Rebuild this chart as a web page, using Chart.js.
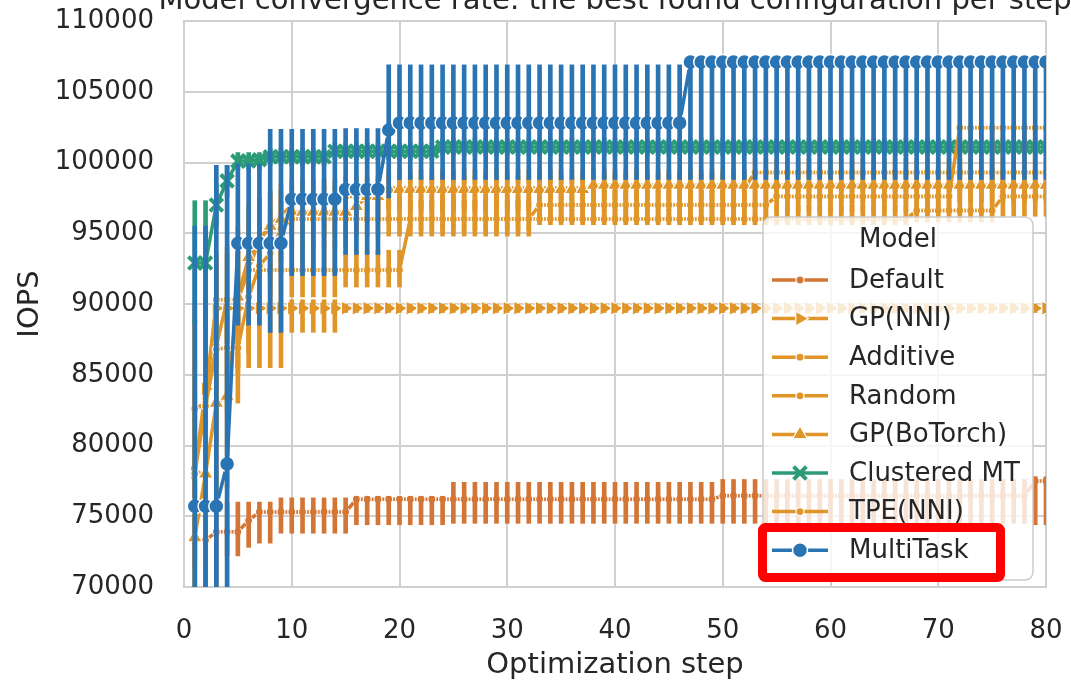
<html>
<head>
  <script src="https://cdn.jsdelivr.net/npm/chart.js"></script>
  <style>
    body { margin: 0; background: #fff; }
  </style>
  <script>
    // optimization steps 1..80
    const steps = [
      1, 2, 3, 4, 5, 6, 7, 8, 9, 10, 11, 12, 13, 14, 15, 16, 17, 18, 19, 20,
      21, 22, 23, 24, 25, 26, 27, 28, 29, 30, 31, 32, 33, 34, 35, 36, 37, 38, 39, 40,
      41, 42, 43, 44, 45, 46, 47, 48, 49, 50, 51, 52, 53, 54, 55, 56, 57, 58, 59, 60,
      61, 62, 63, 64, 65, 66, 67, 68, 69, 70, 71, 72, 73, 74, 75, 76, 77, 78, 79, 80
    ];
    const xTicks = [0, 10, 20, 30, 40, 50, 60, 70, 80];
    const yTicks = [70000, 75000, 80000, 85000, 90000, 95000, 100000, 105000, 110000];

    // Default
    const defaultMean = [
      73300, 73300, 73900, 73900, 73900, 74700, 75300, 75300, 75300, 75300,
      75300, 75300, 75300, 75300, 75300, 76200, 76200, 76200, 76200, 76200,
      76200, 76200, 76200, 76200, 76200, 76200, 76200, 76200, 76200, 76200,
      76200, 76200, 76200, 76200, 76200, 76200, 76200, 76200, 76200, 76200,
      76200, 76200, 76200, 76200, 76200, 76200, 76200, 76200, 76200, 76450,
      76450, 76450, 76450, 76450, 76450, 76450, 76450, 76450, 76450, 76450,
      76450, 76450, 76450, 76450, 76450, 76450, 76450, 76450, 76450, 76450,
      76450, 76450, 76450, 76450, 76450, 76450, 76450, 76450, 77500, 77500
    ];
    const defaultLo = [
      71500, 70000, 70000, 72200, 72200, 72800, 73100, 73100, 73800, 73800,
      73800, 73800, 73800, 73800, 73800, 74400, 74400, 74400, 74400, 74400,
      74400, 74400, 74400, 74400, 74500, 74500, 74500, 74500, 74500, 74500,
      74500, 74500, 74500, 74500, 74500, 74500, 74500, 74500, 74500, 74500,
      74500, 74500, 74500, 74500, 74500, 74500, 74500, 74500, 74500, 74500,
      74500, 74500, 74500, 74500, 74500, 74500, 74500, 74500, 74500, 74500,
      74500, 74500, 74500, 74500, 74500, 74500, 74500, 74500, 74500, 74500,
      74500, 74500, 74500, 74500, 74500, 74500, 74500, 74500, 74400, 74400
    ];
    const defaultHi = [
      75000, 76500, 75500, 76000, 76000, 76000, 76000, 76000, 76300, 76300,
      76300, 76300, 76300, 76300, 76300, 76400, 76400, 76400, 76400, 76400,
      76400, 76400, 76400, 76400, 77400, 77400, 77400, 77400, 77400, 77400,
      77400, 77400, 77400, 77400, 77400, 77400, 77400, 77400, 77400, 77400,
      77400, 77400, 77400, 77400, 77400, 77400, 77400, 77400, 77400, 77600,
      77600, 77600, 77600, 77600, 77600, 77600, 77600, 77600, 77600, 77600,
      77600, 77600, 77600, 77600, 77600, 77600, 77600, 77600, 77600, 77600,
      77600, 77600, 77600, 77600, 77600, 77600, 77600, 77600, 77800, 77800
    ];

    // GP(NNI)
    const gpNniMean = [
      78100, 84000, 89700, 89700, 89700, 89700, 89700, 89700, 89700, 89700,
      89700, 89700, 89700, 89700, 89700, 89700, 89700, 89700, 89700, 89700,
      89700, 89700, 89700, 89700, 89700, 89700, 89700, 89700, 89700, 89700,
      89700, 89700, 89700, 89700, 89700, 89700, 89700, 89700, 89700, 89700,
      89700, 89700, 89700, 89700, 89700, 89700, 89700, 89700, 89700, 89700,
      89700, 89700, 89700, 89700, 89700, 89700, 89700, 89700, 89700, 89700,
      89700, 89700, 89700, 89700, 89700, 89700, 89700, 89700, 89700, 89700,
      89700, 89700, 89700, 89700, 89700, 89700, 89700, 89700, 89700, 89700
    ];
    const gpNniLo = [
      70000, 76000, 87500, 87500, 85500, 85500, 85500, 85500, 85500, 88000,
      88000, 88000, 88000, 88000, 89400, 89400, 89400, 89400, 89400, 89400,
      89400, 89400, 89400, 89400, 89400, 89400, 89400, 89400, 89400, 89400,
      89400, 89400, 89400, 89400, 89400, 89400, 89400, 89400, 89400, 89400,
      89400, 89400, 89400, 89400, 89400, 89400, 89400, 89400, 89400, 89400,
      89400, 89400, 89400, 89400, 89400, 89400, 89400, 89400, 89400, 89400,
      89400, 89400, 89400, 89400, 89400, 89400, 89400, 89400, 89400, 89400,
      89400, 89400, 89400, 89400, 89400, 89400, 89400, 89400, 89400, 89400
    ];
    const gpNniHi = [
      86000, 90400, 90400, 90400, 90400, 90400, 90400, 90400, 90400, 90300,
      90300, 90300, 90300, 90300, 90000, 90000, 90000, 90000, 90000, 90000,
      90000, 90000, 90000, 90000, 90000, 90000, 90000, 90000, 90000, 90000,
      90000, 90000, 90000, 90000, 90000, 90000, 90000, 90000, 90000, 90000,
      90000, 90000, 90000, 90000, 90000, 90000, 90000, 90000, 90000, 90000,
      90000, 90000, 90000, 90000, 90000, 90000, 90000, 90000, 90000, 90000,
      90000, 90000, 90000, 90000, 90000, 90000, 90000, 90000, 90000, 90000,
      90000, 90000, 90000, 90000, 90000, 90000, 90000, 90000, 90000, 90000
    ];

    // Additive
    const additiveMean = [
      82500, 83000, 87000, 90300, 90300, 92500, 94500, 95600, 96200, 97000,
      97300, 97300, 97300, 97300, 97600, 97600, 97600, 97600, 98200, 98200,
      98200, 98200, 98200, 98200, 98200, 98200, 98200, 98200, 98200, 98200,
      98200, 98200, 98200, 98200, 98200, 98200, 98200, 98200, 98200, 98200,
      98200, 98200, 98200, 98200, 98200, 98200, 98200, 98200, 98200, 98200,
      98200, 98200, 99300, 99300, 99300, 99300, 99300, 99300, 99300, 99300,
      99300, 99300, 99300, 99300, 99300, 99300, 99300, 99300, 99300, 99300,
      99300, 99300, 99300, 99300, 99300, 99300, 99300, 99300, 99300, 99300
    ];
    const additiveLo = [
      75000, 76000, 80000, 85000, 85500, 87500, 90000, 92000, 93000, 95000,
      95500, 95500, 95500, 95500, 96000, 96000, 96000, 96000, 96600, 96600,
      96600, 96600, 96600, 96600, 96600, 96600, 96600, 96600, 96600, 96600,
      96600, 96600, 96600, 96600, 96600, 96600, 96600, 96600, 96600, 96600,
      96600, 96600, 96600, 96600, 96600, 96600, 96600, 96600, 96600, 96600,
      96600, 96600, 98000, 98000, 98000, 98000, 98000, 98000, 98000, 98000,
      98000, 98000, 98000, 98000, 98000, 98000, 98000, 98000, 98000, 98000,
      98000, 98000, 98000, 98000, 98000, 98000, 98000, 98000, 98000, 98000
    ];
    const additiveHi = [
      90000, 90000, 93000, 94000, 94500, 96500, 97500, 98000, 98500, 98700,
      98800, 98800, 98800, 98800, 99000, 99000, 99000, 99000, 99500, 99500,
      99500, 99500, 99500, 99500, 99500, 99500, 99500, 99500, 99500, 99500,
      99500, 99500, 99500, 99500, 99500, 99500, 99500, 99500, 99500, 99500,
      99500, 99500, 99500, 99500, 99500, 99500, 99500, 99500, 99500, 99500,
      99500, 99500, 100300, 100300, 100300, 100300, 100300, 100300, 100300, 100300,
      100300, 100300, 100300, 100300, 100300, 100300, 100300, 100300, 100300, 100300,
      100300, 100300, 100300, 100300, 100300, 100300, 100300, 100300, 100300, 100300
    ];

    // Random
    const randomMean = [
      82600, 83000, 90300, 90300, 90300, 92400, 92400, 92400, 92400, 92400,
      92400, 92400, 92400, 92400, 92400, 92400, 92400, 92400, 92400, 92400,
      96000, 96000, 96000, 96000, 96000, 96000, 96000, 96000, 96000, 96000,
      96000, 96000, 96000, 96000, 96000, 96000, 96000, 96000, 96000, 96000,
      96000, 96000, 96000, 96000, 96000, 96000, 96000, 96000, 96000, 96000,
      96000, 96000, 96000, 96000, 96000, 96000, 96000, 96000, 96000, 96000,
      96000, 96000, 96000, 96000, 96000, 96000, 96000, 96600, 96600, 96600,
      96600, 96600, 96600, 96600, 96600, 97600, 97600, 97600, 97600, 97600
    ];
    const randomLo = [
      76000, 77000, 86500, 86500, 87000, 90500, 90500, 90500, 90500, 90500,
      90500, 90500, 90500, 90500, 91200, 91200, 91200, 91200, 91200, 91200,
      95200, 95200, 95200, 95200, 95200, 95200, 95200, 95200, 95200, 95200,
      95200, 95200, 95600, 95600, 95600, 95600, 95600, 95600, 95600, 95600,
      95600, 95600, 95600, 95600, 95600, 95600, 95600, 95600, 95600, 95600,
      95600, 95600, 95600, 95600, 95600, 95600, 95600, 95600, 95600, 95600,
      95600, 95600, 95600, 95600, 95600, 95600, 95600, 95800, 95800, 95800,
      95800, 95800, 95800, 95800, 95800, 96200, 96200, 96200, 96200, 96200
    ];
    const randomHi = [
      89000, 89500, 93500, 93500, 94000, 94500, 94500, 94500, 94500, 94500,
      94500, 94500, 94500, 94500, 93800, 93800, 93800, 93800, 93800, 93800,
      97300, 97300, 97300, 97300, 97300, 97300, 97300, 97300, 97300, 97300,
      97300, 97300, 97000, 97000, 97000, 97000, 97000, 97000, 97000, 97000,
      97000, 97000, 97000, 97000, 97000, 97000, 97000, 97000, 97000, 97000,
      97000, 97000, 97000, 97000, 97000, 97000, 97000, 97000, 97000, 97000,
      97000, 97000, 97000, 97000, 97000, 97000, 97000, 97600, 97600, 97600,
      97600, 97600, 97600, 97600, 97600, 98700, 98700, 98700, 98700, 98700
    ];

    // GP(BoTorch)
    const boTorchMean = [
      73500, 78000, 83000, 83500, 90500, 93300, 94500, 95500, 96000, 96500,
      96500, 96500, 96500, 96500, 96500, 96900, 97600, 97600, 98100, 98100,
      98100, 98100, 98100, 98100, 98100, 98100, 98100, 98100, 98100, 98100,
      98100, 98100, 98100, 98100, 98100, 98100, 98100, 98400, 98400, 98400,
      98400, 98400, 98400, 98400, 98400, 98400, 98400, 98400, 98400, 98400,
      98400, 98400, 98400, 98400, 98400, 98400, 98400, 98400, 98400, 98400,
      98400, 98400, 98400, 98400, 98400, 98400, 98400, 98400, 98400, 98400,
      98400, 98400, 98400, 98400, 98400, 98400, 98400, 98400, 98400, 98400
    ];
    const boTorchLo = [
      70000, 72000, 76000, 77000, 85000, 89000, 90500, 91500, 92500, 94000,
      94000, 94000, 94000, 94000, 94000, 95000, 96000, 96000, 96800, 96800,
      96800, 96800, 96800, 96800, 96800, 96800, 96800, 96800, 96800, 96800,
      96800, 96800, 96800, 96800, 96800, 96800, 96800, 97200, 97200, 97200,
      97200, 97200, 97200, 97200, 97200, 97200, 97200, 97200, 97200, 97200,
      97200, 97200, 97200, 97200, 97200, 97200, 97200, 97200, 97200, 97200,
      97200, 97200, 97200, 97200, 97200, 97200, 97200, 97200, 97200, 97200,
      97200, 97200, 97200, 97200, 97200, 97200, 97200, 97200, 97200, 97200
    ];
    const boTorchHi = [
      77000, 84000, 89500, 90000, 95500, 97000, 97500, 97800, 98000, 98300,
      98300, 98300, 98300, 98300, 98300, 98500, 98800, 98800, 99000, 99000,
      99000, 99000, 99000, 99000, 99000, 99000, 99000, 99000, 99000, 99000,
      99000, 99000, 99000, 99000, 99000, 99000, 99000, 99200, 99200, 99200,
      99200, 99200, 99200, 99200, 99200, 99200, 99200, 99200, 99200, 99200,
      99200, 99200, 99200, 99200, 99200, 99200, 99200, 99200, 99200, 99200,
      99200, 99200, 99200, 99200, 99200, 99200, 99200, 99200, 99200, 99200,
      99200, 99200, 99200, 99200, 99200, 99200, 99200, 99200, 99200, 99200
    ];

    // Clustered MT
    const clusteredMean = [
      92900, 92900, 97000, 98700, 100100, 100100, 100200, 100400, 100400, 100400,
      100400, 100400, 100400, 100800, 100800, 100800, 100800, 100800, 100800, 100800,
      100800, 100800, 100800, 101100, 101100, 101100, 101100, 101100, 101100, 101100,
      101100, 101100, 101100, 101100, 101100, 101100, 101100, 101100, 101100, 101100,
      101100, 101100, 101100, 101100, 101100, 101100, 101100, 101100, 101100, 101100,
      101100, 101100, 101100, 101100, 101100, 101100, 101100, 101100, 101100, 101100,
      101100, 101100, 101100, 101100, 101100, 101100, 101100, 101100, 101100, 101100,
      101100, 101100, 101100, 101100, 101100, 101100, 101100, 101100, 101100, 101100
    ];
    const clusteredLo = [
      88500, 88500, 95500, 97600, 99500, 99500, 99500, 99800, 99800, 99800,
      99800, 99800, 99800, 100200, 100200, 100200, 100200, 100200, 100200, 100200,
      100200, 100200, 100200, 100500, 100500, 100500, 100500, 100500, 100500, 100500,
      100500, 100500, 100500, 100500, 100500, 100500, 100500, 100500, 100500, 100500,
      100500, 100500, 100500, 100500, 100500, 100500, 100500, 100500, 100500, 100500,
      100500, 100500, 100500, 100500, 100500, 100500, 100500, 100500, 100500, 100500,
      100500, 100500, 100500, 100500, 100500, 100500, 100500, 100500, 100500, 100500,
      100500, 100500, 100500, 100500, 100500, 100500, 100500, 100500, 100500, 100500
    ];
    const clusteredHi = [
      97300, 97300, 98500, 99800, 100700, 100700, 100700, 101000, 101000, 101000,
      101000, 101000, 101000, 101400, 101400, 101400, 101400, 101400, 101400, 101400,
      101400, 101400, 101400, 101700, 101700, 101700, 101700, 101700, 101700, 101700,
      101700, 101700, 101700, 101700, 101700, 101700, 101700, 101700, 101700, 101700,
      101700, 101700, 101700, 101700, 101700, 101700, 101700, 101700, 101700, 101700,
      101700, 101700, 101700, 101700, 101700, 101700, 101700, 101700, 101700, 101700,
      101700, 101700, 101700, 101700, 101700, 101700, 101700, 101700, 101700, 101700,
      101700, 101700, 101700, 101700, 101700, 101700, 101700, 101700, 101700, 101700
    ];

    // TPE(NNI)
    const tpeMean = [
      78000, 82800, 86800, 86900, 86900, 90500, 92700, 93600, 95300, 96000,
      96000, 96000, 96000, 96000, 96000, 96000, 96000, 96000, 96000, 96000,
      96000, 96000, 96000, 96000, 96000, 96000, 96000, 96000, 96000, 96000,
      96000, 96000, 97000, 97000, 97000, 97000, 97000, 97000, 97000, 97000,
      97000, 97000, 97000, 97000, 97000, 97000, 97000, 97000, 97000, 97000,
      97000, 97000, 97000, 97000, 97600, 97600, 97600, 97600, 97600, 97600,
      97600, 97600, 97600, 97600, 97600, 97600, 97600, 97600, 97600, 97600,
      97600, 102450, 102450, 102450, 102450, 102450, 102450, 102450, 102450, 102450
    ];
    const tpeLo = [
      72000, 76000, 82000, 82500, 83000, 86500, 89000, 90500, 93000, 94800,
      94800, 94800, 94800, 94800, 94800, 94800, 94800, 94800, 94800, 94800,
      94800, 94800, 94800, 94800, 94800, 94800, 94800, 94800, 94800, 94800,
      94800, 94800, 95800, 95800, 95800, 95800, 95800, 95800, 95800, 95800,
      95800, 95800, 95800, 95800, 95800, 95800, 95800, 95800, 95800, 95800,
      95800, 95800, 95800, 95800, 96500, 96500, 96500, 96500, 96500, 96500,
      96500, 96500, 96500, 96500, 96500, 96500, 96500, 96500, 96500, 96500,
      96500, 97600, 97600, 97600, 97600, 97600, 97600, 97600, 97600, 97600
    ];
    const tpeHi = [
      84000, 88000, 90500, 90500, 90500, 93500, 95500, 96500, 97300, 97300,
      97300, 97300, 97300, 97300, 97300, 97300, 97300, 97300, 97300, 97300,
      97300, 97300, 97300, 97300, 97300, 97300, 97300, 97300, 97300, 97300,
      97300, 97300, 98000, 98000, 98000, 98000, 98000, 98000, 98000, 98000,
      98000, 98000, 98000, 98000, 98000, 98000, 98000, 98000, 98000, 98000,
      98000, 98000, 98000, 98000, 98600, 98600, 98600, 98600, 98600, 98600,
      98600, 98600, 98600, 98600, 98600, 98600, 98600, 98600, 98600, 98600,
      98600, 102600, 102600, 102600, 102600, 102600, 102600, 102600, 102600, 102600
    ];

    // MultiTask
    const multiTaskMean = [
      75700, 75700, 75700, 78700, 94300, 94300, 94300, 94300, 94300, 97400,
      97400, 97400, 97400, 97400, 98100, 98100, 98100, 98100, 102300, 102800,
      102800, 102800, 102800, 102800, 102800, 102800, 102800, 102800, 102800, 102800,
      102800, 102800, 102800, 102800, 102800, 102800, 102800, 102800, 102800, 102800,
      102800, 102800, 102800, 102800, 102800, 102800, 107100, 107100, 107100, 107100,
      107100, 107100, 107100, 107100, 107100, 107100, 107100, 107100, 107100, 107100,
      107100, 107100, 107100, 107100, 107100, 107100, 107100, 107100, 107100, 107100,
      107100, 107100, 107100, 107100, 107100, 107100, 107100, 107100, 107100, 107100
    ];
    const multiTaskLo = [
      64000, 64000, 64000, 66000, 88500, 88500, 88500, 88000, 88000, 92000,
      92000, 92000, 92000, 92000, 93500, 93500, 93500, 93500, 97500, 98800,
      98800, 98800, 98800, 98800, 98800, 98800, 98800, 98800, 98800, 98800,
      98800, 98800, 98800, 98800, 98800, 98800, 98800, 98800, 98800, 98800,
      98800, 98800, 98800, 98800, 98800, 98800, 98800, 98800, 98800, 98800,
      98800, 98800, 98800, 98800, 98800, 98800, 98800, 98800, 98800, 98800,
      98800, 98800, 98800, 98800, 98800, 98800, 98800, 98800, 98800, 98800,
      98800, 98800, 98800, 98800, 98800, 98800, 98800, 98800, 98800, 98800
    ];
    const multiTaskHi = [
      95500, 95500, 99800, 99800, 99900, 99900, 99900, 102350, 102350, 102350,
      102350, 102350, 102350, 102350, 102400, 102400, 102400, 102400, 106900, 106900,
      106900, 106900, 106900, 106900, 106900, 106900, 106900, 106900, 106900, 106900,
      106900, 106900, 106900, 106900, 106900, 106900, 106900, 106900, 106900, 106900,
      106900, 106900, 106900, 106900, 106900, 106900, 107100, 107100, 107100, 107100,
      107100, 107100, 107100, 107100, 107100, 107100, 107100, 107100, 107100, 107100,
      107100, 107100, 107100, 107100, 107100, 107100, 107100, 107100, 107100, 107100,
      107100, 107100, 107100, 107100, 107100, 107100, 107100, 107100, 107100, 107100
    ];

    const BLUE = '#2a74b4';
    const ORANGE = '#df9527';
    const GREEN = '#2c9b77';
    const VERMILION = '#d37535';
    const TEXT = '#262626';
    const GRID = '#d0d0d0';

    // style per model: colour, marker
    const seriesDefs = [
      { name: 'Default', mean: defaultMean, lo: defaultLo, hi: defaultHi, color: VERMILION, marker: 'dot' },
      { name: 'GP(NNI)', mean: gpNniMean, lo: gpNniLo, hi: gpNniHi, color: ORANGE, marker: 'right' },
      { name: 'Additive', mean: additiveMean, lo: additiveLo, hi: additiveHi, color: ORANGE, marker: 'dot' },
      { name: 'Random', mean: randomMean, lo: randomLo, hi: randomHi, color: ORANGE, marker: 'dot' },
      { name: 'GP(BoTorch)', mean: boTorchMean, lo: boTorchLo, hi: boTorchHi, color: ORANGE, marker: 'up' },
      { name: 'Clustered MT', mean: clusteredMean, lo: clusteredLo, hi: clusteredHi, color: GREEN, marker: 'x' },
      { name: 'TPE(NNI)', mean: tpeMean, lo: tpeLo, hi: tpeHi, color: ORANGE, marker: 'dot' },
      { name: 'MultiTask', mean: multiTaskMean, lo: multiTaskLo, hi: multiTaskHi, color: BLUE, marker: 'circle' }
    ];

    function pointOpts(def) {
      switch (def.marker) {
        case 'circle': return { pointStyle: 'circle', pointRadius: 7.5, pointBorderColor: '#fff', pointBorderWidth: 1.5, pointBackgroundColor: def.color };
        case 'x': return { pointStyle: 'crossRot', pointRadius: 9, pointBorderColor: def.color, pointBorderWidth: 4, pointBackgroundColor: def.color };
        case 'up': return { pointStyle: 'triangle', pointRadius: 8.5, pointBorderColor: '#fff', pointBorderWidth: 1.2, pointBackgroundColor: def.color };
        case 'right': return { pointStyle: 'triangle', pointRotation: 90, pointRadius: 8.5, pointBorderColor: '#fff', pointBorderWidth: 1.2, pointBackgroundColor: def.color };
        default: return { pointStyle: 'circle', pointRadius: 4, pointBorderColor: '#fff', pointBorderWidth: 1.2, pointBackgroundColor: def.color };
      }
    }

    function buildDatasets() {
      const n = seriesDefs.length;
      const out = [];
      seriesDefs.forEach((def, k) => {
        // later models are drawn on top, bars over their own line (lower order = on top)
        const base = (n - 1 - k) * 2;
        out.push(Object.assign({
          type: 'line',
          label: def.name,
          data: steps.map((s, i) => ({ x: s, y: def.mean[i] })),
          borderColor: def.color,
          borderWidth: 3.5,
          tension: 0,
          fill: false,
          clip: 0,
          order: base + 1
        }, pointOpts(def)));
        out.push({
          type: 'bar',
          label: def.name + ' CI',
          data: steps.map((s, i) => ({ x: s, y: [def.lo[i], def.hi[i]] })),
          backgroundColor: def.color,
          borderWidth: 0,
          barThickness: 4,
          grouped: false,
          clip: 0,
          order: base
        });
      });
      return out;
    }

    function drawMarker(ctx, kind, x, y, color) {
      ctx.save();
      ctx.fillStyle = color;
      ctx.strokeStyle = '#fff';
      ctx.beginPath();
      if (kind === 'circle') {
        ctx.arc(x, y, 7.5, 0, Math.PI * 2);
        ctx.fill(); ctx.lineWidth = 1.5; ctx.stroke();
      } else if (kind === 'dot') {
        ctx.arc(x, y, 4, 0, Math.PI * 2);
        ctx.fill(); ctx.lineWidth = 1.2; ctx.stroke();
      } else if (kind === 'up') {
        ctx.moveTo(x, y - 8.5); ctx.lineTo(x + 7.4, y + 4.25); ctx.lineTo(x - 7.4, y + 4.25); ctx.closePath();
        ctx.fill(); ctx.lineWidth = 1.2; ctx.stroke();
      } else if (kind === 'right') {
        ctx.moveTo(x + 8.5, y); ctx.lineTo(x - 4.25, y + 7.4); ctx.lineTo(x - 4.25, y - 7.4); ctx.closePath();
        ctx.fill(); ctx.lineWidth = 1.2; ctx.stroke();
      } else if (kind === 'x') {
        ctx.strokeStyle = color; ctx.lineWidth = 4;
        ctx.moveTo(x - 6.4, y - 6.4); ctx.lineTo(x + 6.4, y + 6.4);
        ctx.moveTo(x + 6.4, y - 6.4); ctx.lineTo(x - 6.4, y + 6.4);
        ctx.stroke();
      }
      ctx.restore();
    }

    const overlayPlugin = {
      id: 'overlay',
      afterDraw(chart) {
        const ctx = chart.ctx;
        const area = chart.chartArea;
        ctx.save();
        // figure title, partly cut off at the top edge
        ctx.fillStyle = TEXT;
        ctx.font = '29px "DejaVu Sans"';
        ctx.textAlign = 'center';
        ctx.textBaseline = 'alphabetic';
        ctx.fillText('Model convergence rate: the best found configuration per step', (area.left + area.right) / 2, 9);

        // legend
        ctx.beginPath();
        ctx.roundRect(763, 217, 270, 363, 8);
        ctx.fillStyle = 'rgba(255,255,255,0.8)';
        ctx.fill();
        ctx.strokeStyle = '#cccccc';
        ctx.lineWidth = 1.5;
        ctx.stroke();

        ctx.fillStyle = TEXT;
        ctx.font = '26px "DejaVu Sans"';
        ctx.textBaseline = 'middle';
        ctx.textAlign = 'center';
        ctx.fillText('Model', 898, 240);
        ctx.textAlign = 'left';
        seriesDefs.forEach((def, i) => {
          const y = 280 + i * 38.6;
          ctx.beginPath();
          ctx.strokeStyle = def.color;
          ctx.lineWidth = 3.5;
          ctx.moveTo(772, y);
          ctx.lineTo(828, y);
          ctx.stroke();
          drawMarker(ctx, def.marker, 800, y, def.color);
          ctx.fillStyle = TEXT;
          ctx.fillText(def.name, 849, y + 1);
        });

        // red highlight around MultiTask
        ctx.beginPath();
        ctx.roundRect(762.5, 527.5, 238, 50, 3);
        ctx.strokeStyle = '#ff0000';
        ctx.lineWidth = 9;
        ctx.stroke();
        ctx.restore();
      }
    };

    window.addEventListener('load', function () {
      Chart.defaults.font.family = '"DejaVu Sans", sans-serif';
      Chart.defaults.color = TEXT;
      new Chart(document.getElementById('myChart'), {
        type: 'bar',
        data: { datasets: buildDatasets() },
        options: {
          responsive: false,
          animation: false,
          events: [],
          layout: { padding: { top: 21, right: 25, bottom: 0, left: 0 } },
          plugins: {
            legend: { display: false },
            tooltip: { enabled: false },
            title: { display: false }
          },
          scales: {
            x: {
              type: 'linear',
              min: 0,
              max: 80,
              offset: false,
              afterBuildTicks: s => { s.ticks = xTicks.map(v => ({ value: v })); },
              afterFit: s => { s.height = 93; },
              grid: { color: GRID, lineWidth: 2, drawTicks: true, tickLength: 27, tickColor: 'rgba(0,0,0,0)', offset: false },
              border: { color: GRID, width: 2 },
              ticks: { font: { size: 26 }, padding: 2, color: TEXT, maxRotation: 0, callback: v => String(v) },
              title: { display: true, text: 'Optimization step', font: { size: 29, lineHeight: 0.95 }, padding: { top: 0, bottom: 1 }, color: TEXT }
            },
            y: {
              type: 'linear',
              min: 70000,
              max: 110000,
              afterBuildTicks: s => { s.ticks = yTicks.map(v => ({ value: v })); },
              afterFit: s => { s.width = 184; },
              grid: { color: GRID, lineWidth: 2, drawTicks: true, tickLength: 28, tickColor: 'rgba(0,0,0,0)' },
              border: { color: GRID, width: 2 },
              ticks: { font: { size: 26 }, padding: 2, color: TEXT, callback: v => String(v) },
              title: { display: true, text: 'IOPS', font: { size: 29, lineHeight: 1.2 }, padding: { top: 13, bottom: 0 }, color: TEXT }
            }
          }
        },
        plugins: [overlayPlugin]
      });
    });
  </script>
</head>
<body>
  <canvas id="myChart" width="1071" height="680"></canvas>
</body>
</html>
